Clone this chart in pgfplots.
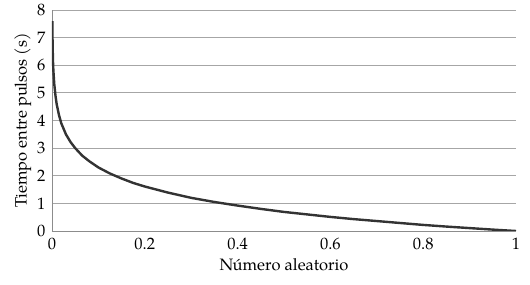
\documentclass[border=0pt]{standalone}
\usepackage{pgfplots}
\pgfplotsset{compat=1.18}
\usepackage{fontspec}
\setmainfont{TeX Gyre Pagella}
\newcommand\bigf{\fontsize{16.5}{19}\selectfont}
\begin{document}
\begin{tikzpicture}
\begin{axis}[name=ax,
  scale only axis, width=464pt, height=221pt,
  xmin=0, xmax=1, ymin=0, ymax=8,
  axis x line*=bottom, axis y line*=left,
  axis line style={color=gray!90, line width=0.8pt, -},
  xtick={0,0.2,...,1}, ytick={0,1,...,8},
  xticklabels={0,0.2,0.4,0.6,0.8,1},
  major tick length=0pt,
  ymajorgrids, grid style={color=gray!70, line width=0.8pt},
  /pgf/number format/assume math mode=true,
  tick label style={font=\bigf, color=black},
  xticklabel style={yshift=-4pt},
  yticklabel style={xshift=-3pt},
  label style={font=\bigf},
  xlabel={Número aleatorio}, ylabel={Tiempo entre pulsos (s)},
  xlabel style={yshift=-1pt}, ylabel style={yshift=-1pt},
]
\addplot[color=black!80, line width=2.4pt, line join=round] coordinates {
(0.0008,7.6) (0.0012,6.9) (0.002,6.2) (0.003,5.8) (0.005,5.3) (0.0075,4.9) (0.01,4.6)
(0.015,4.2) (0.02,3.9) (0.03,3.5) (0.04,3.22) (0.05,3.0) (0.065,2.73) (0.08,2.53)
(0.1,2.3) (0.125,2.08) (0.15,1.9) (0.175,1.74) (0.2,1.61) (0.25,1.39) (0.3,1.2)
(0.35,1.05) (0.4,0.92) (0.45,0.8) (0.5,0.69) (0.55,0.6) (0.6,0.51) (0.65,0.43)
(0.7,0.36) (0.75,0.29) (0.8,0.22) (0.85,0.16) (0.9,0.105) (0.95,0.05) (1,0)
};
\end{axis}
\pgfresetboundingbox
\path ([xshift=-52pt,yshift=-54pt]ax.south west) rectangle ([xshift=14pt,yshift=10pt]ax.north east);
\end{tikzpicture}
\end{document}
